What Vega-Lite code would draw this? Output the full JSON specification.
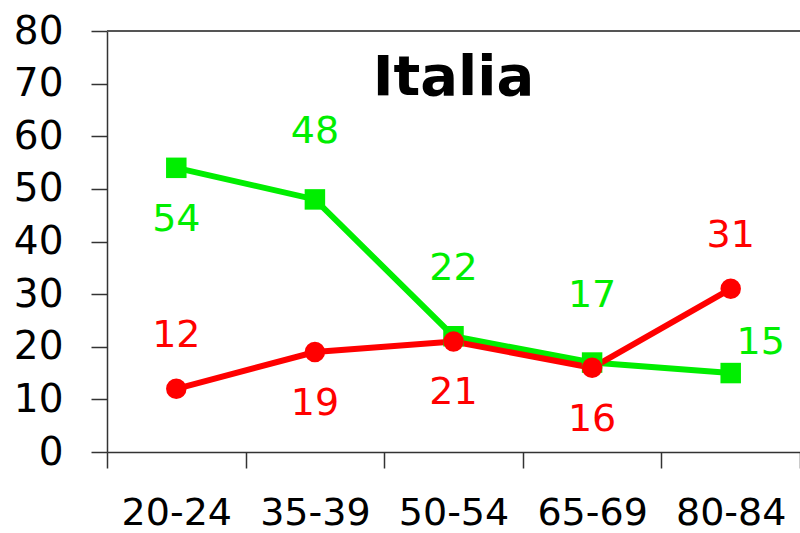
{
  "$schema": "https://vega.github.io/schema/vega-lite/v6.json",
  "width": 693,
  "height": 421,
  "autosize": "none",
  "padding": {"left": 107, "top": 31, "right": 0, "bottom": 81},
  "background": "white",
  "config": {"view": {"stroke": null}, "font": "DejaVu Sans"},
  "data": {"values": [
    {"age": "20-24", "series": "serie A", "value": 54, "place": "below"},
    {"age": "35-39", "series": "serie A", "value": 48, "place": "above"},
    {"age": "50-54", "series": "serie A", "value": 22, "place": "above"},
    {"age": "65-69", "series": "serie A", "value": 17, "place": "above"},
    {"age": "80-84", "series": "serie A", "value": 15, "place": "right"},
    {"age": "20-24", "series": "serie B", "value": 12, "place": "above"},
    {"age": "35-39", "series": "serie B", "value": 19, "place": "below"},
    {"age": "50-54", "series": "serie B", "value": 21, "place": "below"},
    {"age": "65-69", "series": "serie B", "value": 16, "place": "below"},
    {"age": "80-84", "series": "serie B", "value": 31, "place": "above"}
  ]},
  "encoding": {
    "x": {"field": "age", "type": "ordinal", "sort": null, "title": null,
      "scale": {"paddingInner": 0, "paddingOuter": 0},
      "axis": {"labelAngle": 0, "labelFontSize": 38, "labelColor": "black", "labelPadding": 26, "tickBand": "extent", "tickSize": 16, "tickColor": "#333", "tickWidth": 1.5, "domainColor": "#333", "domainWidth": 1.5, "grid": false, "labelFont": "DejaVu Sans"}},
    "y": {"field": "value", "type": "quantitative", "title": null,
      "scale": {"domain": [0, 80], "nice": false},
      "axis": {"values": [0,10,20,30,40,50,60,70,80], "labelFontSize": 39, "labelColor": "black", "labelPadding": 28, "tickSize": 16, "tickColor": "#333", "tickWidth": 1.5, "domainColor": "#333", "domainWidth": 1.5, "grid": false, "labelFont": "DejaVu Sans"}},
    "color": {"field": "series", "type": "nominal", "legend": null, "scale": {"domain": ["serie A", "serie B"], "range": ["#00ee00", "#ff0000"]}}
  },
  "layer": [
    {"mark": {"type": "rule", "color": "#555", "strokeWidth": 2}, "encoding": {"y": {"datum": 80}, "x": null, "color": null}},
    {"mark": {"type": "line", "strokeWidth": 6}},
    {"mark": {"type": "point", "filled": true, "opacity": 1, "size": 420},
      "encoding": {"shape": {"field": "series", "type": "nominal", "legend": null, "scale": {"domain": ["serie A", "serie B"], "range": ["square", "circle"]}}}},
    {"transform": [{"filter": "datum.place == 'above' && datum.series == 'serie A'"}],
      "mark": {"type": "text", "fontSize": 38, "baseline": "middle", "dy": -67},
      "encoding": {"text": {"field": "value"}}},
    {"transform": [{"filter": "datum.place == 'above' && datum.series == 'serie B'"}],
      "mark": {"type": "text", "fontSize": 38, "baseline": "middle", "dy": -53},
      "encoding": {"text": {"field": "value"}}},
    {"transform": [{"filter": "datum.place == 'below'"}],
      "mark": {"type": "text", "fontSize": 38, "baseline": "middle", "dy": 52},
      "encoding": {"text": {"field": "value"}}},
    {"transform": [{"filter": "datum.place == 'right'"}],
      "mark": {"type": "text", "fontSize": 38, "baseline": "middle", "dy": -30, "dx": 30},
      "encoding": {"text": {"field": "value"}}},
    {"transform": [{"filter": "datum.age == '50-54' && datum.series == 'serie A'"}],
      "mark": {"type": "text", "fontSize": 56, "fontWeight": "bold", "baseline": "middle"},
      "encoding": {"text": {"value": "Italia"}, "y": {"datum": 71}, "color": {"value": "black"}}}
  ]
}
